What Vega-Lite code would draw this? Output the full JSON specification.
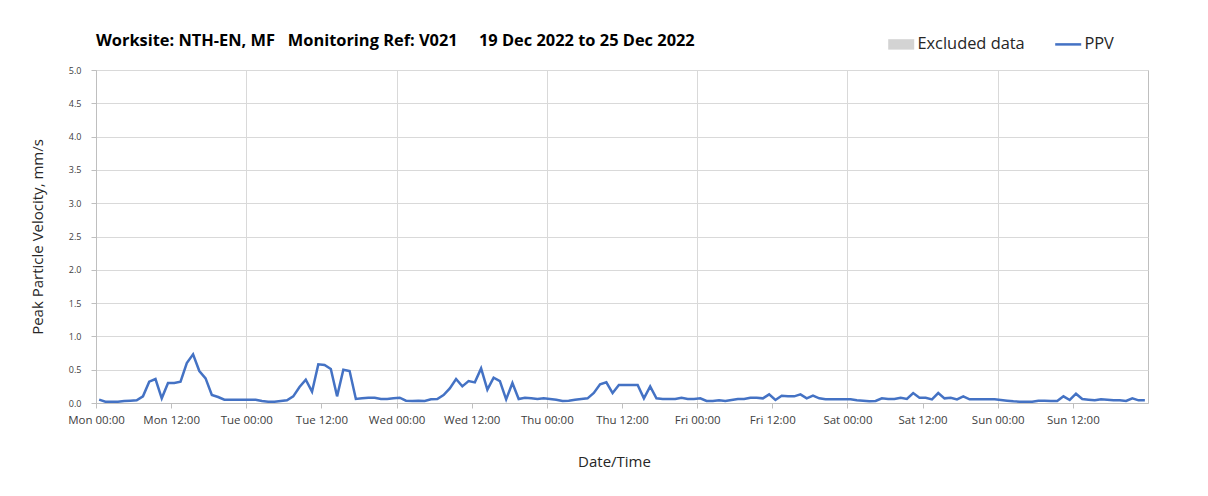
{
  "$schema": "https://vega.github.io/schema/vega-lite/v6.json",
  "width": 1052,
  "height": 333,
  "autosize": {"type": "none"},
  "padding": {"left": 96, "top": 70, "right": 60, "bottom": 93},
  "background": "white",
  "config": {
    "view": {"stroke": "#bfbfbf", "strokeWidth": 1},
    "font": "Open Sans"
  },
  "title": {
    "text": "Worksite: NTH-EN, MF\u00a0\u00a0\u00a0Monitoring Ref: V021\u00a0\u00a0\u00a0\u00a0\u00a019 Dec 2022 to 25 Dec 2022",
    "anchor": "start",
    "frame": "group",
    "offset": 22,
    "dy": 35,
    "font": "Open Sans",
    "fontSize": 16.4,
    "fontWeight": "bold",
    "color": "#000000"
  },
  "data": {
    "values": [
      {"t":"2022-12-19T00:30:00Z","v":0.05},{"t":"2022-12-19T01:30:00Z","v":0.02},{"t":"2022-12-19T02:30:00Z","v":0.02},{"t":"2022-12-19T03:30:00Z","v":0.02},{"t":"2022-12-19T04:30:00Z","v":0.03},{"t":"2022-12-19T05:30:00Z","v":0.035},{"t":"2022-12-19T06:30:00Z","v":0.04},{"t":"2022-12-19T07:30:00Z","v":0.1},{"t":"2022-12-19T08:30:00Z","v":0.32},{"t":"2022-12-19T09:30:00Z","v":0.36},{"t":"2022-12-19T10:30:00Z","v":0.07},{"t":"2022-12-19T11:30:00Z","v":0.3},{"t":"2022-12-19T12:30:00Z","v":0.3},{"t":"2022-12-19T13:30:00Z","v":0.32},{"t":"2022-12-19T14:30:00Z","v":0.6},{"t":"2022-12-19T15:30:00Z","v":0.73},{"t":"2022-12-19T16:30:00Z","v":0.48},{"t":"2022-12-19T17:30:00Z","v":0.37},{"t":"2022-12-19T18:30:00Z","v":0.12},{"t":"2022-12-19T19:30:00Z","v":0.09},{"t":"2022-12-19T20:30:00Z","v":0.05},{"t":"2022-12-19T21:30:00Z","v":0.05},{"t":"2022-12-19T22:30:00Z","v":0.05},{"t":"2022-12-19T23:30:00Z","v":0.05},
      {"t":"2022-12-20T00:30:00Z","v":0.05},{"t":"2022-12-20T01:30:00Z","v":0.05},{"t":"2022-12-20T02:30:00Z","v":0.03},{"t":"2022-12-20T03:30:00Z","v":0.02},{"t":"2022-12-20T04:30:00Z","v":0.02},{"t":"2022-12-20T05:30:00Z","v":0.03},{"t":"2022-12-20T06:30:00Z","v":0.04},{"t":"2022-12-20T07:30:00Z","v":0.1},{"t":"2022-12-20T08:30:00Z","v":0.24},{"t":"2022-12-20T09:30:00Z","v":0.35},{"t":"2022-12-20T10:30:00Z","v":0.17},{"t":"2022-12-20T11:30:00Z","v":0.58},{"t":"2022-12-20T12:30:00Z","v":0.57},{"t":"2022-12-20T13:30:00Z","v":0.51},{"t":"2022-12-20T14:30:00Z","v":0.1},{"t":"2022-12-20T15:30:00Z","v":0.5},{"t":"2022-12-20T16:30:00Z","v":0.48},{"t":"2022-12-20T17:30:00Z","v":0.06},{"t":"2022-12-20T18:30:00Z","v":0.07},{"t":"2022-12-20T19:30:00Z","v":0.08},{"t":"2022-12-20T20:30:00Z","v":0.08},{"t":"2022-12-20T21:30:00Z","v":0.06},{"t":"2022-12-20T22:30:00Z","v":0.06},{"t":"2022-12-20T23:30:00Z","v":0.07},
      {"t":"2022-12-21T00:30:00Z","v":0.08},{"t":"2022-12-21T01:30:00Z","v":0.035},{"t":"2022-12-21T02:30:00Z","v":0.03},{"t":"2022-12-21T03:30:00Z","v":0.035},{"t":"2022-12-21T04:30:00Z","v":0.03},{"t":"2022-12-21T05:30:00Z","v":0.055},{"t":"2022-12-21T06:30:00Z","v":0.06},{"t":"2022-12-21T07:30:00Z","v":0.12},{"t":"2022-12-21T08:30:00Z","v":0.22},{"t":"2022-12-21T09:30:00Z","v":0.36},{"t":"2022-12-21T10:30:00Z","v":0.25},{"t":"2022-12-21T11:30:00Z","v":0.33},{"t":"2022-12-21T12:30:00Z","v":0.31},{"t":"2022-12-21T13:30:00Z","v":0.52},{"t":"2022-12-21T14:30:00Z","v":0.2},{"t":"2022-12-21T15:30:00Z","v":0.38},{"t":"2022-12-21T16:30:00Z","v":0.33},{"t":"2022-12-21T17:30:00Z","v":0.055},{"t":"2022-12-21T18:30:00Z","v":0.3},{"t":"2022-12-21T19:30:00Z","v":0.06},{"t":"2022-12-21T20:30:00Z","v":0.08},{"t":"2022-12-21T21:30:00Z","v":0.07},{"t":"2022-12-21T22:30:00Z","v":0.06},{"t":"2022-12-21T23:30:00Z","v":0.07},
      {"t":"2022-12-22T00:30:00Z","v":0.06},{"t":"2022-12-22T01:30:00Z","v":0.05},{"t":"2022-12-22T02:30:00Z","v":0.03},{"t":"2022-12-22T03:30:00Z","v":0.035},{"t":"2022-12-22T04:30:00Z","v":0.05},{"t":"2022-12-22T05:30:00Z","v":0.06},{"t":"2022-12-22T06:30:00Z","v":0.07},{"t":"2022-12-22T07:30:00Z","v":0.15},{"t":"2022-12-22T08:30:00Z","v":0.28},{"t":"2022-12-22T09:30:00Z","v":0.31},{"t":"2022-12-22T10:30:00Z","v":0.15},{"t":"2022-12-22T11:30:00Z","v":0.27},{"t":"2022-12-22T12:30:00Z","v":0.27},{"t":"2022-12-22T13:30:00Z","v":0.27},{"t":"2022-12-22T14:30:00Z","v":0.27},{"t":"2022-12-22T15:30:00Z","v":0.07},{"t":"2022-12-22T16:30:00Z","v":0.25},{"t":"2022-12-22T17:30:00Z","v":0.07},{"t":"2022-12-22T18:30:00Z","v":0.06},{"t":"2022-12-22T19:30:00Z","v":0.06},{"t":"2022-12-22T20:30:00Z","v":0.06},{"t":"2022-12-22T21:30:00Z","v":0.08},{"t":"2022-12-22T22:30:00Z","v":0.06},{"t":"2022-12-22T23:30:00Z","v":0.06},
      {"t":"2022-12-23T00:30:00Z","v":0.07},{"t":"2022-12-23T01:30:00Z","v":0.03},{"t":"2022-12-23T02:30:00Z","v":0.03},{"t":"2022-12-23T03:30:00Z","v":0.04},{"t":"2022-12-23T04:30:00Z","v":0.03},{"t":"2022-12-23T05:30:00Z","v":0.045},{"t":"2022-12-23T06:30:00Z","v":0.06},{"t":"2022-12-23T07:30:00Z","v":0.06},{"t":"2022-12-23T08:30:00Z","v":0.08},{"t":"2022-12-23T09:30:00Z","v":0.08},{"t":"2022-12-23T10:30:00Z","v":0.07},{"t":"2022-12-23T11:30:00Z","v":0.13},{"t":"2022-12-23T12:30:00Z","v":0.045},{"t":"2022-12-23T13:30:00Z","v":0.11},{"t":"2022-12-23T14:30:00Z","v":0.1},{"t":"2022-12-23T15:30:00Z","v":0.1},{"t":"2022-12-23T16:30:00Z","v":0.13},{"t":"2022-12-23T17:30:00Z","v":0.07},{"t":"2022-12-23T18:30:00Z","v":0.11},{"t":"2022-12-23T19:30:00Z","v":0.07},{"t":"2022-12-23T20:30:00Z","v":0.055},{"t":"2022-12-23T21:30:00Z","v":0.055},{"t":"2022-12-23T22:30:00Z","v":0.055},{"t":"2022-12-23T23:30:00Z","v":0.055},
      {"t":"2022-12-24T00:30:00Z","v":0.055},{"t":"2022-12-24T01:30:00Z","v":0.04},{"t":"2022-12-24T02:30:00Z","v":0.035},{"t":"2022-12-24T03:30:00Z","v":0.025},{"t":"2022-12-24T04:30:00Z","v":0.03},{"t":"2022-12-24T05:30:00Z","v":0.07},{"t":"2022-12-24T06:30:00Z","v":0.06},{"t":"2022-12-24T07:30:00Z","v":0.06},{"t":"2022-12-24T08:30:00Z","v":0.08},{"t":"2022-12-24T09:30:00Z","v":0.06},{"t":"2022-12-24T10:30:00Z","v":0.15},{"t":"2022-12-24T11:30:00Z","v":0.08},{"t":"2022-12-24T12:30:00Z","v":0.08},{"t":"2022-12-24T13:30:00Z","v":0.055},{"t":"2022-12-24T14:30:00Z","v":0.15},{"t":"2022-12-24T15:30:00Z","v":0.07},{"t":"2022-12-24T16:30:00Z","v":0.08},{"t":"2022-12-24T17:30:00Z","v":0.055},{"t":"2022-12-24T18:30:00Z","v":0.1},{"t":"2022-12-24T19:30:00Z","v":0.055},{"t":"2022-12-24T20:30:00Z","v":0.055},{"t":"2022-12-24T21:30:00Z","v":0.055},{"t":"2022-12-24T22:30:00Z","v":0.055},{"t":"2022-12-24T23:30:00Z","v":0.055},
      {"t":"2022-12-25T00:30:00Z","v":0.045},{"t":"2022-12-25T01:30:00Z","v":0.035},{"t":"2022-12-25T02:30:00Z","v":0.025},{"t":"2022-12-25T03:30:00Z","v":0.02},{"t":"2022-12-25T04:30:00Z","v":0.02},{"t":"2022-12-25T05:30:00Z","v":0.02},{"t":"2022-12-25T06:30:00Z","v":0.035},{"t":"2022-12-25T07:30:00Z","v":0.035},{"t":"2022-12-25T08:30:00Z","v":0.03},{"t":"2022-12-25T09:30:00Z","v":0.03},{"t":"2022-12-25T10:30:00Z","v":0.1},{"t":"2022-12-25T11:30:00Z","v":0.045},{"t":"2022-12-25T12:30:00Z","v":0.14},{"t":"2022-12-25T13:30:00Z","v":0.06},{"t":"2022-12-25T14:30:00Z","v":0.05},{"t":"2022-12-25T15:30:00Z","v":0.04},{"t":"2022-12-25T16:30:00Z","v":0.055},{"t":"2022-12-25T17:30:00Z","v":0.05},{"t":"2022-12-25T18:30:00Z","v":0.04},{"t":"2022-12-25T19:30:00Z","v":0.04},{"t":"2022-12-25T20:30:00Z","v":0.03},{"t":"2022-12-25T21:30:00Z","v":0.07},{"t":"2022-12-25T22:30:00Z","v":0.04},{"t":"2022-12-25T23:30:00Z","v":0.04}
    ]
  },
  "layer": [
    {
      "mark": {"type": "rule", "opacity": 0},
      "encoding": {
        "x": {
          "field": "t",
          "type": "temporal",
          "scale": {"type": "utc", "domain": [{"year": 2022, "month": 12, "date": 19, "hours": 0, "utc": true}, {"year": 2022, "month": 12, "date": 26, "hours": 0, "utc": true}]},
          "axis": {
            "orient": "bottom",
            "values": [
              {"year": 2022, "month": 12, "date": 20, "hours": 0, "utc": true},
              {"year": 2022, "month": 12, "date": 21, "hours": 0, "utc": true},
              {"year": 2022, "month": 12, "date": 22, "hours": 0, "utc": true},
              {"year": 2022, "month": 12, "date": 23, "hours": 0, "utc": true},
              {"year": 2022, "month": 12, "date": 24, "hours": 0, "utc": true},
              {"year": 2022, "month": 12, "date": 25, "hours": 0, "utc": true}
            ],
            "grid": true,
            "gridColor": "#d9d9d9",
            "gridWidth": 1,
            "labels": false,
            "ticks": false,
            "domain": false,
            "title": null
          }
        }
      }
    },
    {
      "mark": {"type": "line", "strokeWidth": 2.5, "interpolate": "linear"},
      "encoding": {
        "x": {
          "field": "t",
          "type": "temporal",
          "axis": {
            "orient": "bottom",
            "values": [
              {"year": 2022, "month": 12, "date": 19, "hours": 0, "utc": true},
              {"year": 2022, "month": 12, "date": 19, "hours": 12, "utc": true},
              {"year": 2022, "month": 12, "date": 20, "hours": 0, "utc": true},
              {"year": 2022, "month": 12, "date": 20, "hours": 12, "utc": true},
              {"year": 2022, "month": 12, "date": 21, "hours": 0, "utc": true},
              {"year": 2022, "month": 12, "date": 21, "hours": 12, "utc": true},
              {"year": 2022, "month": 12, "date": 22, "hours": 0, "utc": true},
              {"year": 2022, "month": 12, "date": 22, "hours": 12, "utc": true},
              {"year": 2022, "month": 12, "date": 23, "hours": 0, "utc": true},
              {"year": 2022, "month": 12, "date": 23, "hours": 12, "utc": true},
              {"year": 2022, "month": 12, "date": 24, "hours": 0, "utc": true},
              {"year": 2022, "month": 12, "date": 24, "hours": 12, "utc": true},
              {"year": 2022, "month": 12, "date": 25, "hours": 0, "utc": true},
              {"year": 2022, "month": 12, "date": 25, "hours": 12, "utc": true}
            ],
            "labelExpr": "utcFormat(datum.value, '%a %H:%M')",
            "grid": false,
            "domain": true,
            "domainColor": "#bfbfbf",
            "ticks": true,
            "tickColor": "#bfbfbf",
            "tickSize": 5,
            "labelFont": "Open Sans",
            "labelFontSize": 11.5,
            "labelColor": "#404040",
            "labelPadding": 6,
            "labelFlush": false,
            "labelOverlap": false,
            "title": "Date/Time",
            "titleFont": "Open Sans",
            "titleFontSize": 15,
            "titleFontWeight": "normal",
            "titleColor": "#262626",
            "titlePadding": 29,
            "titleX": 518
          }
        },
        "y": {
          "field": "v",
          "type": "quantitative",
          "scale": {"domain": [0, 5], "nice": false},
          "axis": {
            "values": [0, 0.5, 1, 1.5, 2, 2.5, 3, 3.5, 4, 4.5, 5],
            "format": ".1f",
            "grid": true,
            "gridColor": "#d9d9d9",
            "domain": true,
            "domainColor": "#bfbfbf",
            "ticks": true,
            "tickColor": "#bfbfbf",
            "tickSize": 5,
            "labelFont": "Open Sans",
            "labelFontSize": 9,
            "labelColor": "#404040",
            "labelPadding": 10,
            "title": "Peak Particle Velocity, mm/s",
            "titleFont": "Open Sans",
            "titleFontSize": 15,
            "titleFontWeight": "normal",
            "titleColor": "#262626",
            "titlePadding": 23
          }
        },
        "color": {
          "datum": "PPV",
          "type": "nominal",
          "scale": {"domain": ["Excluded data", "PPV"], "range": ["#d3d3d3", "#4472c4"]},
          "legend": {
            "title": null,
            "orient": "none",
            "legendX": 797,
            "legendY": -34,
            "direction": "horizontal",
            "symbolSize": 676,
            "symbolStrokeWidth": 2.5,
            "labelFont": "Open Sans",
            "labelFontSize": 16.4,
            "labelColor": "#262626",
            "labelOffset": 8,
            "columnPadding": 25,
            "encode": {
              "symbols": {
                "update": {
                  "shape": {"signal": "datum.value === 'PPV' ? 'stroke' : 'M-1,-0.4H1V0.4H-1Z'"},
                  "fill": {"signal": "datum.value === 'PPV' ? 'transparent' : '#d3d3d3'"},
                  "stroke": {"signal": "datum.value === 'PPV' ? '#4472c4' : '#d3d3d3'"},
                  "strokeWidth": {"signal": "datum.value === 'PPV' ? 2.5 : 0"}
                }
              }
            }
          }
        }
      }
    }
  ],
  "resolve": {"axis": {"x": "independent"}}
}
